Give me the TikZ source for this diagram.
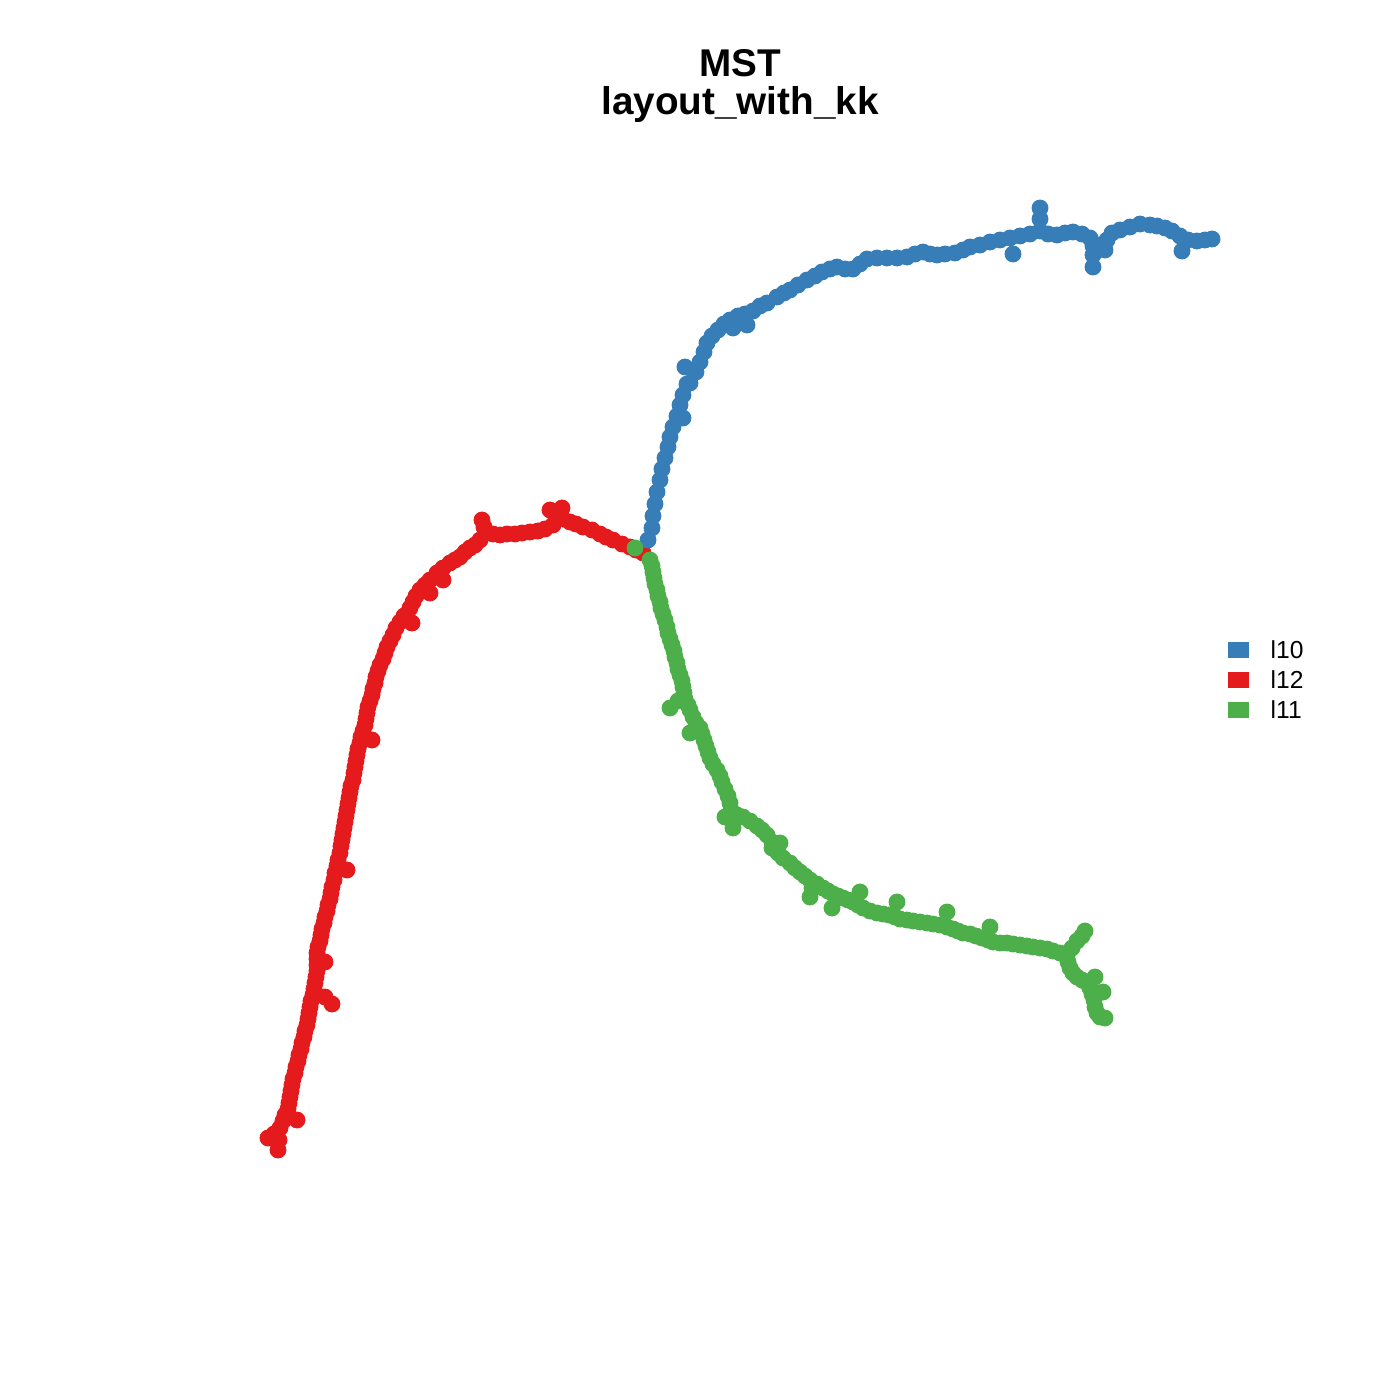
\documentclass[tikz,border=0pt]{standalone}
\usepackage{fontspec}
\setmainfont{Liberation Sans}
\definecolor{cblue}{HTML}{377EB8}
\definecolor{cred}{HTML}{E41A1C}
\definecolor{cgreen}{HTML}{4DAF4A}
\tikzset{
  dotr/.style={radius=2.4pt},
  legsq/.style={minimum width=0.207cm,minimum height=0.167cm,inner sep=0pt,outer sep=0pt},
  legtxt/.style={anchor=base west,inner sep=0pt,font=\fontsize{7}{8}\selectfont},
  ttl/.style={anchor=base,inner sep=0pt,font=\fontsize{11}{13}\selectfont\bfseries}
}
\begin{document}
\begin{tikzpicture}[x=0.01cm,y=-0.01cm]
\useasboundingbox (0,0) rectangle (1400,1400);
% red chain
\foreach \a/\b in {643/553,636/550,630/547,622/544,613/540,606/537,600/534,592/530,583/527,576/524,570/522,563/519,557/518,550/510,562/508,553/525,545/529,538/531,530/532,522/533,515/534,507/534,500/535,493/534,487/533,484/527,482/520,480/540,475/545,470/548,465/552,460/557,455/560,450/563,443/568,437/573,443/580,430/580,425/585,430/593,420/590,416/596,413/602,410/608,407/614,412/623,404/616,400/622,396/628,393/635,390/641,387/647,385/653,383/659,380/665,378/671,376/677,375/683,373/689,372/695,370/701,368/707,367/713,366/719,365/725,363/731,361/737,372/740,360/743,358/749,357/755,356/761,355/767,354/773,353/780,351/786,350/792,349/798,348/804,347/810,346/816,345/822,344/828,343/834,342/840,341/846,340/853,338/860,337/866,347/870,335/873,334/880,332/887,331/893,330/899,328/905,327/911,325/917,324/923,322/929,321/935,320/941,318/947,317/953,325/962,317/959,317/965,317/971,316/977,315/983,314/989,313/995,325/997,332/1004,311/1001,310/1007,309/1013,308/1019,307/1025,305/1031,304/1037,302/1043,301/1049,299/1055,298/1061,296/1067,295/1073,293/1079,292/1085,291/1091,290/1097,289/1103,288/1109,297/1120,285/1115,283/1121,280/1128,274/1134,268/1138,279/1140,278/1150}
  \fill[cred] (\a,\b) circle[dotr];
% blue chain
\foreach \a/\b in {648/540,652/528,653/516,655/504,657/492,660/480,662/469,665/458,668/447,670/437,673/427,677/416,683/418,680/405,683/395,687/384,685/367,690/383,696/372,700/362,704/352,707/343,712/336,718/330,724/324,730/320,733/328,738/316,747/325,745/314,753/311,760/306,767/303,777/297,784/293,790/290,798/285,807/280,815/276,822/272,830/269,837/267,845/269,853/269,860/264,867/259,877/258,887/258,897/258,907/257,915/254,923/252,930/254,937/255,945/254,955/253,963/250,970/247,980/245,990/242,1000/240,1013/254,1010/238,1020/236,1030/234,1040/231,1040/219,1040/208,1048/234,1057/235,1065/233,1073/232,1082/234,1090/238,1093/246,1093/255,1093/267,1098/245,1105/250,1107/240,1112/233,1120/230,1130/227,1140/224,1150/225,1157/226,1165/228,1172/231,1180/236,1182/251,1188/240,1197/241,1205/240,1212/239}
  \fill[cblue] (\a,\b) circle[dotr];
% green chain
\foreach \a/\b in {635/548,650/560,652/566,653/572,654/578,655/584,657/590,658/596,660/602,661/608,663/614,665/620,667/627,668/633,670/639,672/645,674/651,675/657,677/663,678/669,680/675,682/681,683/687,684/693,685/699,678/701,670/708,688/705,690/710,693/717,696/723,700/728,702/734,690/733,704/740,706/746,708/752,710/758,713/764,717/770,720/776,722/782,725/789,728/796,730/803,731/810,725/817,733/828,737/815,743/817,750/821,757/826,762/830,767/835,780/843,772/842,772/848,778/853,783/858,790/863,795/868,800/872,805/876,810/880,810/897,812/888,817/884,823/888,828/891,833/894,832/908,838/896,843/898,848/900,853/902,860/892,858/905,863/908,870/911,877/913,883/914,889/915,895/917,897/902,900/919,907/920,913/921,920/922,927/923,933/924,940/925,947/927,947/912,953/929,958/931,963/933,970/934,976/936,982/938,988/940,990/927,993/942,1000/943,1007/943,1013/944,1020/945,1027/946,1033/947,1040/948,1047/949,1053/951,1060/953,1067/956,1072/948,1077/941,1082/936,1085/931,1068/962,1070/968,1073/973,1077/977,1082/980,1087/983,1095/977,1090/988,1092/994,1103/992,1094/1000,1095/1007,1097/1013,1100/1017,1105/1018}
  \fill[cgreen] (\a,\b) circle[dotr];
% title
\node[ttl] (t1) at (740,77) {MST};
\node[ttl] (t2) at (740,115) {layout\_with\_kk};
% legend
\node[legsq,fill=cblue] (s1) at (1238.5,650) {};
\node[legsq,fill=cred] (s2) at (1238.5,680) {};
\node[legsq,fill=cgreen] (s3) at (1238.5,710) {};
\node[legtxt] (l1) at (1270,658) {l10};
\node[legtxt] (l2) at (1270,688) {l12};
\node[legtxt] (l3) at (1270,718) {l11};
\end{tikzpicture}
\end{document}
